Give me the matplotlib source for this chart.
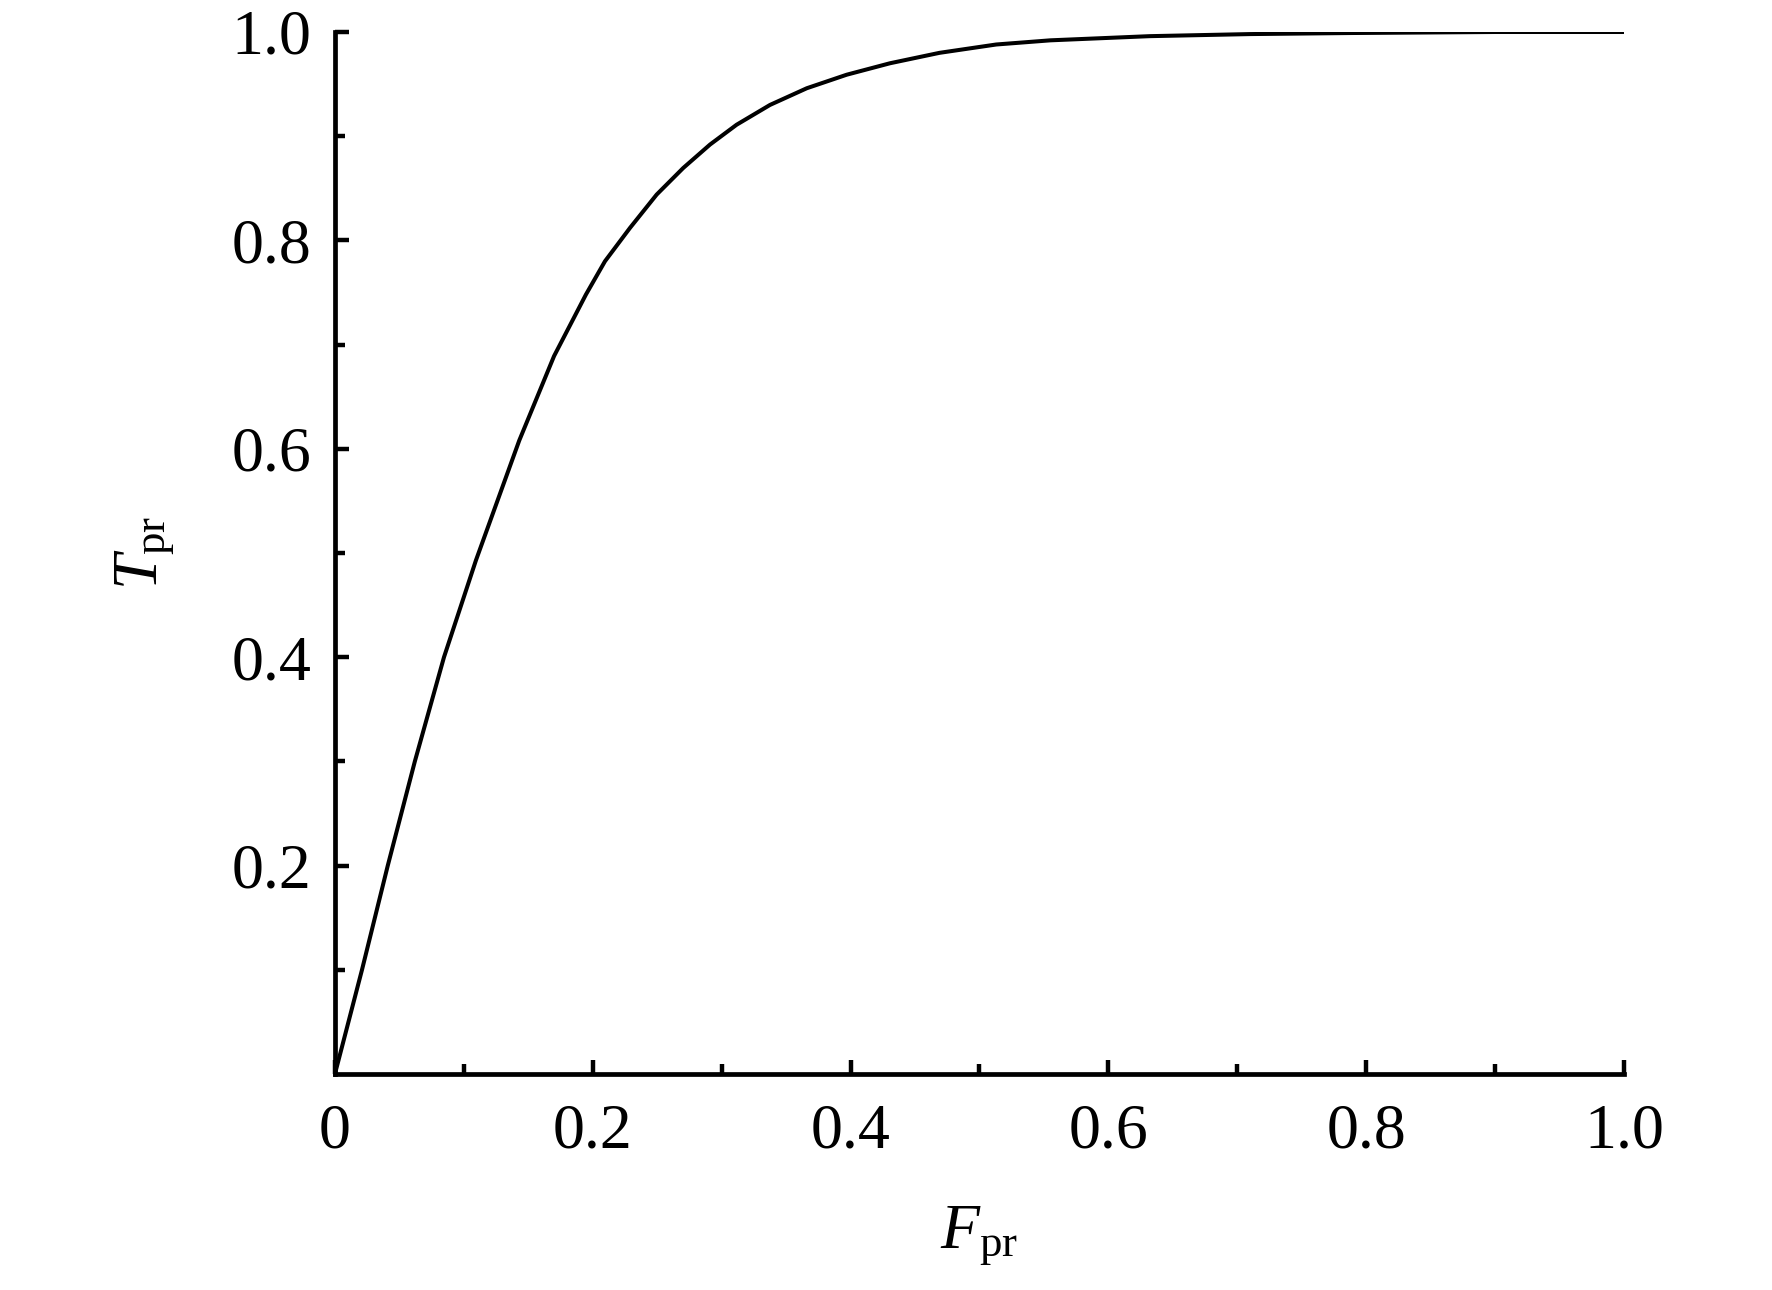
import matplotlib
matplotlib.use("Agg")
import matplotlib.pyplot as plt

# values
f_pr = [0.0, 0.021, 0.041, 0.062, 0.0846, 0.1094, 0.143, 0.170, 0.1947,
        0.2095, 0.2289, 0.2496, 0.2702, 0.291, 0.3116, 0.3375, 0.366, 0.397,
        0.4306, 0.469, 0.513, 0.555, 0.632, 0.71, 0.787, 0.9, 1.0]
t_pr = [0.0, 0.10, 0.20, 0.30, 0.40, 0.493, 0.608, 0.689, 0.748,
        0.780, 0.812, 0.844, 0.8695, 0.892, 0.911, 0.930, 0.946, 0.959,
        0.970, 0.980, 0.988, 0.992, 0.996, 0.998, 0.999, 1.0, 1.0]

x_major = [0, 0.2, 0.4, 0.6, 0.8, 1.0]
x_labels = ["0", "0.2", "0.4", "0.6", "0.8", "1.0"]
y_major = [0.2, 0.4, 0.6, 0.8, 1.0]
y_labels = ["0.2", "0.4", "0.6", "0.8", "1.0"]
minor = [0.1, 0.3, 0.5, 0.7, 0.9]

plt.rcParams["font.family"] = ["Liberation Serif", "DejaVu Serif"]
plt.rcParams["mathtext.fontset"] = "custom"
plt.rcParams["mathtext.rm"] = "Liberation Serif"
plt.rcParams["mathtext.it"] = "Liberation Serif:italic"

fig = plt.figure(figsize=(17.72, 12.90), dpi=100)
ax = fig.add_axes([0.189, 0.1674, 0.9165 - 0.189, 0.9752 - 0.1674])

ax.plot(f_pr, t_pr, color="black", lw=2.9, solid_joinstyle="round")

ax.set_xlim(0, 1)
ax.set_ylim(0, 1)
ax.spines["top"].set_visible(False)
ax.spines["right"].set_visible(False)
for s in ("left", "bottom"):
    ax.spines[s].set_linewidth(3.4)

ax.set_xticks(x_major)
ax.set_xticklabels(x_labels)
ax.set_yticks(y_major)
ax.set_yticklabels(y_labels)
ax.set_xticks(minor, minor=True)
ax.set_yticks(minor, minor=True)
ax.tick_params(which="both", direction="in", width=3.2, labelsize=46)
ax.tick_params(which="major", length=10)
ax.tick_params(which="minor", length=7)
ax.tick_params(axis="y", pad=17)
ax.tick_params(axis="x", pad=21)

ax.set_xlabel(r"$F_{\mathrm{pr}}$", fontsize=46, labelpad=31)
ax.set_ylabel(r"$T_{\mathrm{pr}}$", fontsize=46, labelpad=40)

fig.savefig("out.png", dpi=100)
